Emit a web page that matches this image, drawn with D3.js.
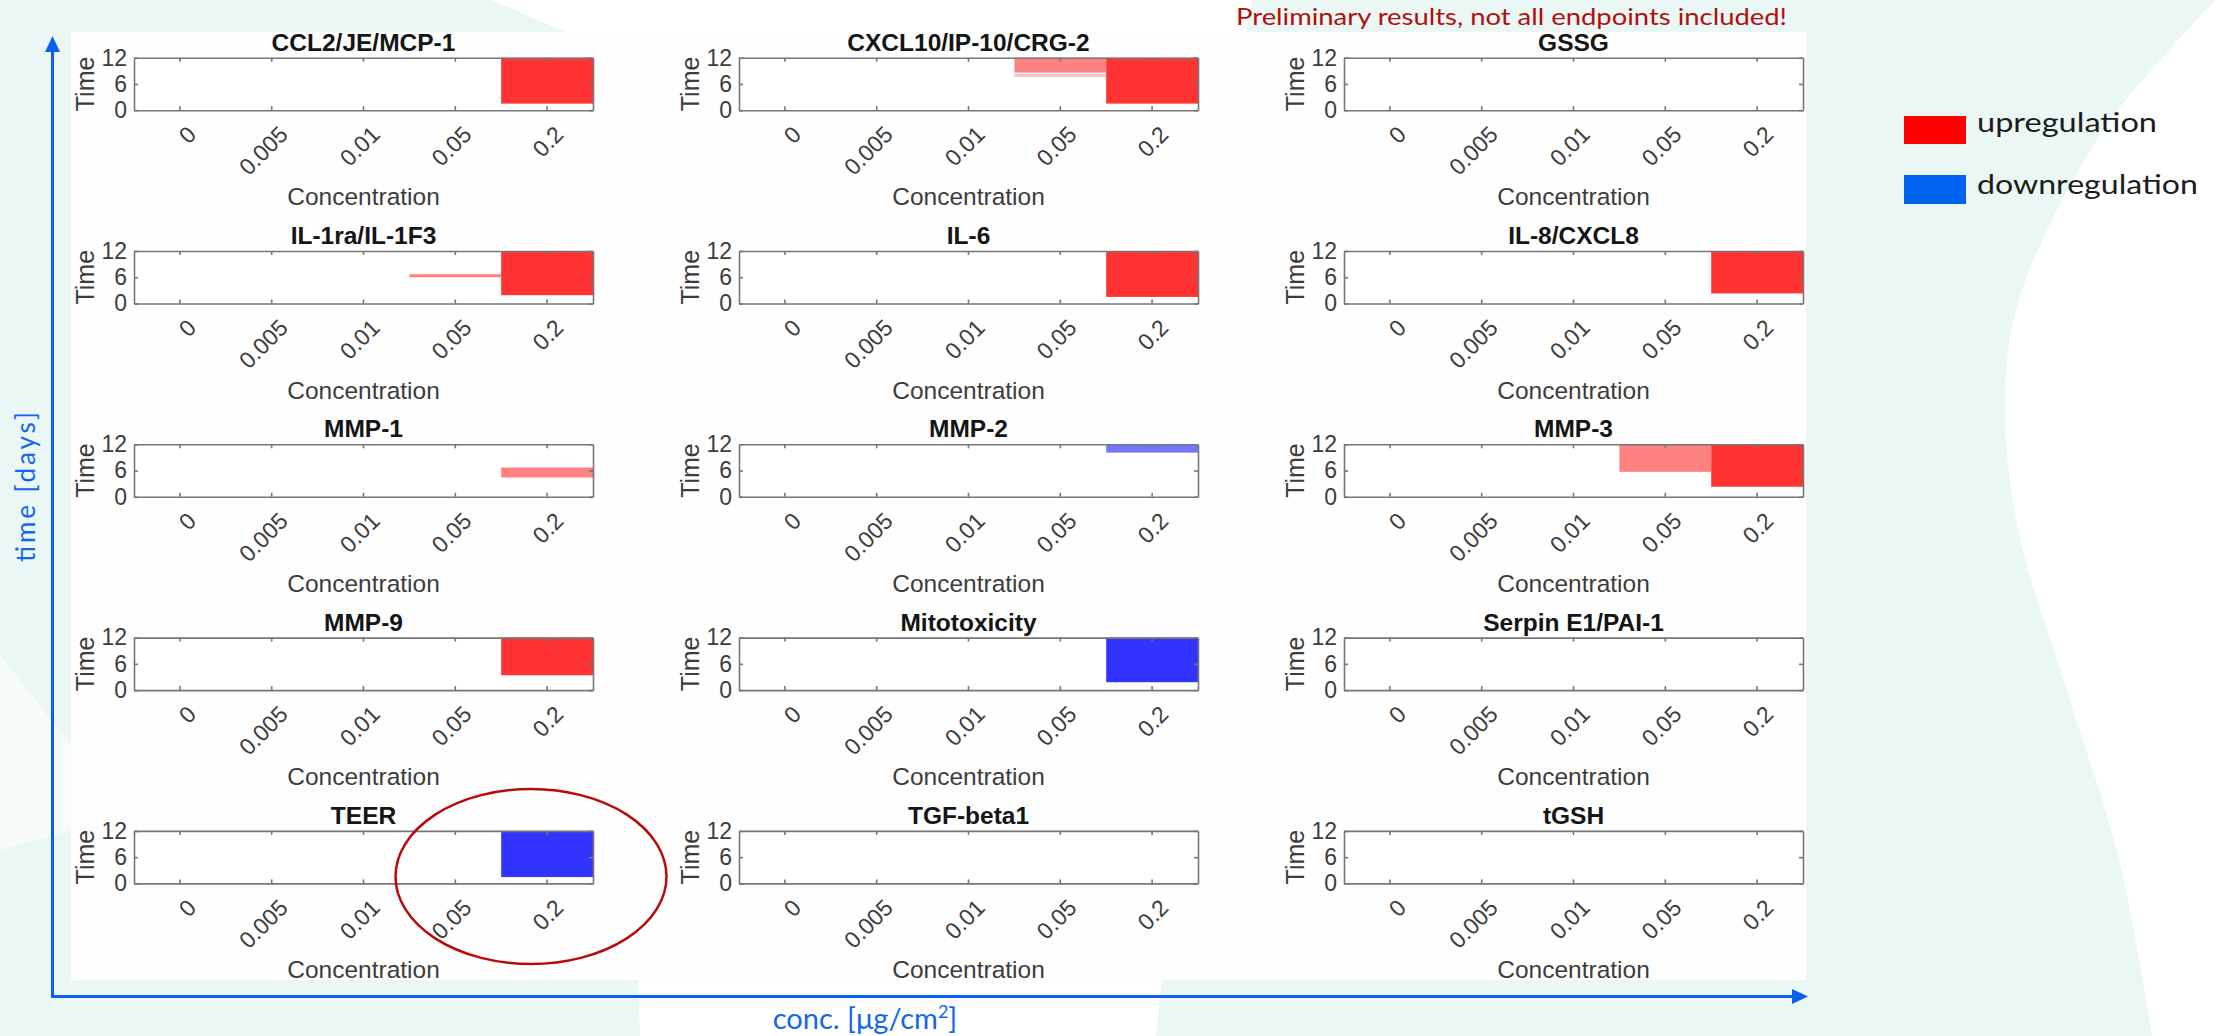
<!DOCTYPE html>
<html>
<head>
<meta charset="utf-8">
<script src="https://cdn.jsdelivr.net/npm/d3@7"></script>
<style>
  body { margin: 0; background: #fff; }
  svg { display: block; }
</style>
</head>
<body>
<script>
const concentrations = ['0', '0.005', '0.01', '0.05', '0.2']
const timeTicks = [0, 6, 12]
const endpoints = [
  'CCL2/JE/MCP-1', 'CXCL10/IP-10/CRG-2', 'GSSG',
  'IL-1ra/IL-1F3', 'IL-6', 'IL-8/CXCL8',
  'MMP-1', 'MMP-2', 'MMP-3',
  'MMP-9', 'Mitotoxicity', 'Serpin E1/PAI-1',
  'TEER', 'TGF-beta1', 'tGSH'
]

// endpoint, concentration, time from, time to (days), direction, strength
const effects = [
  ['CCL2/JE/MCP-1', '0.2', 1.5, 12, 'up', 'strong'],
  ['CXCL10/IP-10/CRG-2', '0.05', 8.6, 12, 'up', 'weak'],
  ['CXCL10/IP-10/CRG-2', '0.05', 7.6, 8.3, 'up', 'faint'],
  ['CXCL10/IP-10/CRG-2', '0.2', 1.5, 12, 'up', 'strong'],
  ['IL-1ra/IL-1F3', '0.05', 6.0, 6.7, 'up', 'weak'],
  ['IL-1ra/IL-1F3', '0.2', 1.9, 12, 'up', 'strong'],
  ['IL-6', '0.2', 1.5, 12, 'up', 'strong'],
  ['IL-8/CXCL8', '0.2', 2.3, 12, 'up', 'strong'],
  ['MMP-1', '0.2', 4.4, 6.7, 'up', 'weak'],
  ['MMP-2', '0.2', 10.1, 12, 'down', 'weak'],
  ['MMP-3', '0.05', 5.7, 12, 'up', 'weak'],
  ['MMP-3', '0.2', 2.3, 12, 'up', 'strong'],
  ['MMP-9', '0.2', 3.4, 12, 'up', 'strong'],
  ['Mitotoxicity', '0.2', 1.8, 12, 'down', 'strong'],
  ['TEER', '0.2', 1.45, 12, 'down', 'strong']
]

const legendLabels = ['upregulation', 'downregulation']
const legendColors = ['#ff0000', '#0062ee']

const colors = {
  up: { strong: '#ff3333', weak: '#ff8282', faint: '#ffc4c4' },
  down: { strong: '#3333ff', weak: '#7474ff', faint: '#c4c4ff' }
}

const W = 2225, H = 1036
const panel = { left: 134, top: 57.7, width: 459, height: 52.5, colStep: 605, rowStep: 193.3 }
const mint = '#eaf7f4'
const arrowBlue = '#0b5ff0'

const svg = d3.select('body')
  .append('svg')
  .attr('width', W)
  .attr('height', H)

// slide background
svg.append('rect').attr('width', W).attr('height', H).attr('fill', mint)

svg.append('path')
  .attr('fill', '#fff')
  .attr('d', 'M491,0L1252,0L1246,34L571,34Z')

const curve = [[2216, 0], [2102, 132], [2020, 297], [2005, 397], [2018, 529], [2068, 694], [2119, 859], [2152, 1036]]
svg.append('path')
  .attr('fill', '#fff')
  .attr('d', d3.line().curve(d3.curveCatmullRom)(curve) + 'L2225,1036L2225,0Z')

svg.append('path')
  .attr('fill', '#fff')
  .attr('d', 'M638,975L1162,975L1156,1036L640,1036Z')

svg.append('path')
  .attr('fill', '#f7fcfb')
  .attr('d', 'M0,655L71,745L71,830L0,850Z')

svg.append('rect')
  .attr('x', 71).attr('y', 32)
  .attr('width', 1735).attr('height', 948)
  .attr('fill', '#fefefe')

// scales shared by all small panels
const x = d3.scaleBand().domain(concentrations).range([0, panel.width])
const y = d3.scaleLinear().domain([0, 12]).range([panel.height, 0])

const font = 'Liberation Sans, Arial, Helvetica, sans-serif'

endpoints.forEach((name, i) => {
  const col = i % 3, row = Math.floor(i / 3)
  const g = svg.append('g')
    .attr('transform', `translate(${panel.left + col * panel.colStep}, ${panel.top + row * panel.rowStep})`)

  g.append('rect')
    .attr('width', panel.width)
    .attr('height', panel.height)
    .attr('fill', '#fff')

  g.selectAll('rect.bar')
    .data(effects.filter(e => e[0] === name))
    .enter()
    .append('rect')
    .attr('class', 'bar')
    .attr('x', d => x(d[1]))
    .attr('width', x.bandwidth())
    .attr('y', d => y(d[3]))
    .attr('height', d => y(d[2]) - y(d[3]))
    .attr('fill', d => colors[d[4]][d[5]])

  const bottom = g.append('g')
    .attr('transform', `translate(0, ${panel.height})`)
    .call(d3.axisBottom(x).tickSize(-4).tickSizeOuter(0))
  bottom.selectAll('text')
    .attr('x', 12)
    .attr('y', 20)
    .attr('dy', '0.35em')
    .attr('text-anchor', 'end')
    .attr('transform', 'rotate(-45, 12, 20)')

  const top = g.append('g')
    .call(d3.axisTop(x).tickSize(-4).tickSizeOuter(0).tickFormat(''))

  const left = g.append('g')
    .call(d3.axisLeft(y).tickValues(timeTicks).tickSize(-4).tickSizeOuter(0).tickPadding(7))

  const right = g.append('g')
    .attr('transform', `translate(${panel.width}, 0)`)
    .call(d3.axisRight(y).tickValues(timeTicks).tickSize(-4).tickSizeOuter(0).tickFormat(''))

  ;[bottom, top, left, right].forEach(a => {
    a.attr('font-family', font).attr('font-size', 23)
    a.selectAll('path, line').attr('stroke', '#767676').attr('stroke-width', 1.6)
    a.selectAll('text').attr('fill', '#3c3c3c')
  })

  g.append('text')
    .attr('x', panel.width / 2)
    .attr('y', -7)
    .attr('text-anchor', 'middle')
    .attr('font-family', font)
    .attr('font-weight', 'bold')
    .attr('font-size', 24.5)
    .attr('fill', '#151515')
    .text(name)

  g.append('text')
    .attr('x', panel.width / 2)
    .attr('y', panel.height + 95)
    .attr('text-anchor', 'middle')
    .attr('font-family', font)
    .attr('font-size', 24.5)
    .attr('fill', '#3c3c3c')
    .text('Concentration')

  g.append('text')
    .attr('transform', `translate(-40, ${panel.height / 2}) rotate(-90)`)
    .attr('text-anchor', 'middle')
    .attr('font-family', font)
    .attr('font-size', 25)
    .attr('fill', '#3c3c3c')
    .text('Time')
})

// red circle around TEER at the highest dose
svg.append('ellipse')
  .attr('cx', 531).attr('cy', 876.5)
  .attr('rx', 135.5).attr('ry', 87.5)
  .attr('fill', 'none')
  .attr('stroke', '#b80a0a')
  .attr('stroke-width', 2.5)

// overall axes arrows
svg.append('line')
  .attr('x1', 52.5).attr('y1', 997).attr('x2', 52.5).attr('y2', 48)
  .attr('stroke', arrowBlue).attr('stroke-width', 3)
svg.append('path')
  .attr('d', 'M52.5,36L60,52L45,52Z')
  .attr('fill', arrowBlue)
svg.append('line')
  .attr('x1', 51).attr('y1', 996.5).attr('x2', 1795).attr('y2', 996.5)
  .attr('stroke', arrowBlue).attr('stroke-width', 3)
svg.append('path')
  .attr('d', 'M1808,996.5L1792,989L1792,1004Z')
  .attr('fill', arrowBlue)

svg.append('text')
  .attr('transform', 'translate(35, 487) rotate(-90)')
  .attr('text-anchor', 'middle')
  .attr('font-family', 'Lato, Noto Sans, sans-serif')
  .attr('font-size', 26)
  .attr('fill', '#1466ee')
  .attr('textLength', 150)
  .attr('lengthAdjust', 'spacing')
  .text('time [days]')

const concLabel = svg.append('text')
  .attr('x', 865)
  .attr('y', 1029)
  .attr('text-anchor', 'middle')
  .attr('font-family', 'Lato, Noto Sans, sans-serif')
  .attr('font-size', 29)
  .attr('fill', '#1466ee')
concLabel.append('tspan').text('conc. [μg/cm')
concLabel.append('tspan').attr('font-size', 18).attr('dy', -11).text('2')
concLabel.append('tspan').attr('dy', 11).text(']')

svg.append('text')
  .attr('x', 1236)
  .attr('y', 25)
  .attr('font-family', 'Lato, Noto Sans, sans-serif')
  .attr('font-size', 24)
  .attr('fill', '#b0100f')
  .attr('textLength', 551)
  .attr('lengthAdjust', 'spacingAndGlyphs')
  .text('Preliminary results, not all endpoints included!')

// legend
const legend = svg.append('g')
  .attr('transform', 'translate(1904, 116)')

legend.selectAll('rect')
  .data(legendColors)
  .enter()
  .append('rect')
  .attr('x', 0)
  .attr('y', (d, i) => i * 59)
  .attr('width', 62)
  .attr('height', (d, i) => 28 + i)
  .attr('fill', d => d)

legend.selectAll('text')
  .data(legendLabels)
  .enter()
  .append('text')
  .attr('x', 73)
  .attr('y', (d, i) => 16 + i * 62)
  .attr('font-family', 'Lato, Noto Sans, sans-serif')
  .attr('font-size', 27)
  .attr('fill', '#1c1c1c')
  .attr('textLength', (d, i) => [180, 221][i])
  .attr('lengthAdjust', 'spacingAndGlyphs')
  .text(d => d)
</script>
</body>
</html>
